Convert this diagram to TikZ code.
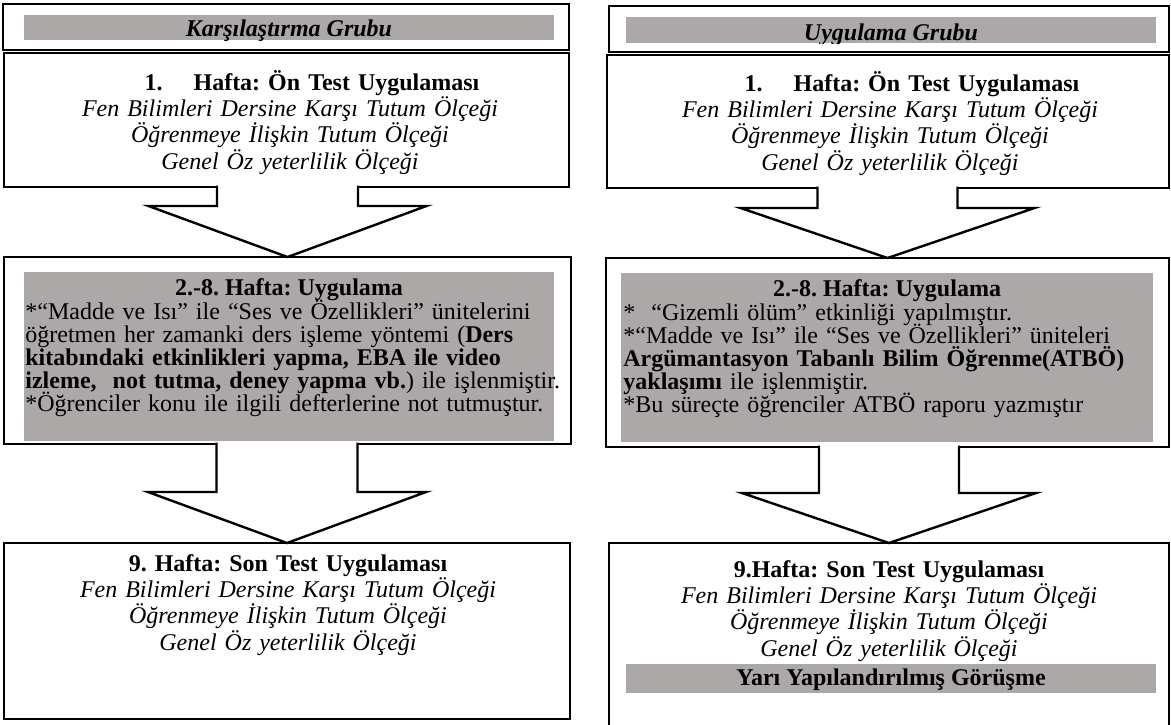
\documentclass[tikz,border=0pt]{standalone}
\usepackage{fontspec}
\setmainfont{Liberation Serif}
\usetikzlibrary{calc}
\definecolor{hgrau}{RGB}{172,168,168}
\frenchspacing

\begin{document}
\begin{tikzpicture}
		[
		x=0.5pt, y=-0.5pt, font={\fontsize{12pt}{13.2pt}\selectfont\lineskiplimit=-\maxdimen},
		%Voreinstellungen für Kästen, Balken und Pfeile
		kasten/.style={draw, line width=1.2pt, fill=white, inner sep=0pt, outer sep=0pt, anchor=north west},
		balken/.style={fill=hgrau, inner sep=0pt, outer sep=0pt},
		zeilen/.style={anchor=base, text width=280pt, align=center, inner sep=0pt},
		links/.style={anchor=base west, text width=300pt, align=left, inner sep=0pt, font={\fontsize{12pt}{11.6pt}\selectfont\lineskiplimit=-\maxdimen}},
		blockpfeil/.style={draw, line width=1.2pt, fill=white, line join=miter}
		]
		
		%Rahmen
		\useasboundingbox (0,0) rectangle (1171,724);
		\clip (0,0) rectangle (1171,724);
		
		%Kopf links
		\node[kasten, minimum width=283pt, minimum height=23pt] (kopfL) at (3,4) {};
		\node[balken, minimum width=265pt, text height=10.5pt, text depth=2pt, anchor=base] (titelL) at (289,36) {\textbf{\textit{Karşılaştırma Grubu}}};
		
		%Kopf rechts
		\node[kasten, minimum width=280pt, minimum height=23pt] (kopfR) at (609,6) {};
		\begin{scope}
		\clip (626,17) rectangle (1156,43);
		\node[balken, minimum width=265pt, text height=11.5pt, text depth=1.5pt, anchor=base] (titelR) at (891,40) {\textbf{\textit{Uygulama Grubu}}};
		\end{scope}
		
		%1. Hafta links
		\node[kasten, minimum width=282.5pt, minimum height=67pt] (boxL1) at (4,53) {};
		\node[zeilen] (txtL1) at (290,90) {\textbf{\hspace*{22pt}1.\hspace{15.5pt}Hafta: Ön Test Uygulaması}\\ \textit{Fen Bilimleri Dersine Karşı Tutum Ölçeği}\\ \textit{Öğrenmeye İlişkin Tutum Ölçeği}\\ \textit{Genel Öz yeterlilik Ölçeği}};
		
		%1. Hafta rechts
		\node[kasten, minimum width=281pt, minimum height=66.5pt] (boxR1) at (607,55) {};
		\node[zeilen] (txtR1) at (890,91) {\textbf{\hspace*{22pt}1.\hspace{15.5pt}Hafta: Ön Test Uygulaması}\\ \textit{Fen Bilimleri Dersine Karşı Tutum Ölçeği}\\ \textit{Öğrenmeye İlişkin Tutum Ölçeği}\\ \textit{Genel Öz yeterlilik Ölçeği}};
		
		%2.-8. Hafta links
		\node[kasten, minimum width=283.5pt, minimum height=93.5pt] (boxL2) at (4,257) {};
		\node[balken, minimum width=265pt, minimum height=84.5pt, anchor=north west] (grauL2) at (24,272) {};
		\node[anchor=base, inner sep=0pt] (titelL2) at (289,295) {\textbf{2.-8. Hafta: Uygulama}};
		\node[links] (txtL2) at (25,319) {{*}“Madde ve Isı” ile “Ses ve Özellikleri” ünitelerini\\ öğretmen her zamanki ders işleme yöntemi (\textbf{Ders}\\ \textbf{kitabındaki etkinlikleri yapma, EBA ile video}\\ \textbf{izleme,\ \ not tutma, deney yapma vb.}) ile işlenmiştir.\\ {*}Öğrenciler konu ile ilgili defterlerine not tutmuştur.};
		
		%2.-8. Hafta rechts
		\node[kasten, minimum width=281.5pt, minimum height=94.5pt] (boxR2) at (606,258) {};
		\node[balken, minimum width=266pt, minimum height=84.5pt, anchor=north west] (grauR2) at (621,273) {};
		\node[anchor=base, inner sep=0pt] (titelR2) at (887,296) {\textbf{2.-8. Hafta: Uygulama}};
		\node[links] (txtR2) at (623,320) {{*}\ \ “Gizemli ölüm” etkinliği yapılmıştır.\\ {*}“Madde ve Isı” ile “Ses ve Özellikleri” üniteleri\\ \textbf{Argümantasyon Tabanlı Bilim Öğrenme(ATBÖ)}\\ \textbf{yaklaşımı} ile işlenmiştir.\\ {*}Bu süreçte öğrenciler ATBÖ raporu yazmıştır};
		
		%9. Hafta links
		\node[kasten, minimum width=283pt, minimum height=88pt] (boxL3) at (4,543) {};
		\node[zeilen] (txtL3) at (288,571) {\textbf{9. Hafta: Son Test Uygulaması}\\ \textit{Fen Bilimleri Dersine Karşı Tutum Ölçeği}\\ \textit{Öğrenmeye İlişkin Tutum Ölçeği}\\ \textit{Genel Öz yeterlilik Ölçeği}};
		
		%9. Hafta rechts
		\node[kasten, minimum width=280pt, minimum height=108.5pt] (boxR3) at (609,543) {};
		\node[zeilen] (txtR3) at (889,577) {\textbf{9.Hafta: Son Test Uygulaması}\\ \textit{Fen Bilimleri Dersine Karşı Tutum Ölçeği}\\ \textit{Öğrenmeye İlişkin Tutum Ölçeği}\\ \textit{Genel Öz yeterlilik Ölçeği}};
		\node[balken, minimum width=265pt, text height=10.5pt, text depth=4pt, anchor=base] (grauR3) at (891,685) {\textbf{Yarı Yapılandırılmış Görüşme}};
		
		%Blockpfeil 1 links
		\draw[blockpfeil] ($(boxL2.north |- boxL1.south)+(-70.5,-1.5)$) -- ($(boxL2.north)+(-70.5,-51)$) -- ($(boxL2.north)+(-139,-51)$) -- (boxL2.north) -- ($(boxL2.north)+(139,-51)$) -- ($(boxL2.north)+(70.5,-51)$) -- ($(boxL2.north |- boxL1.south)+(70.5,-1.5)$);
		%Blockpfeil 2 links
		\draw[blockpfeil] ($(boxL3.north |- boxL2.south)+(-70.5,-1.5)$) -- ($(boxL3.north)+(-70.5,-51)$) -- ($(boxL3.north)+(-139,-51)$) -- (boxL3.north) -- ($(boxL3.north)+(139,-51)$) -- ($(boxL3.north)+(70.5,-51)$) -- ($(boxL3.north |- boxL2.south)+(70.5,-1.5)$);
		%Blockpfeil 1 rechts
		\draw[blockpfeil] ($(boxR2.north |- boxR1.south)+(-70,-1.5)$) -- ($(boxR2.north)+(-70,-50)$) -- ($(boxR2.north)+(-147,-50)$) -- (boxR2.north) -- ($(boxR2.north)+(147,-50)$) -- ($(boxR2.north)+(70,-50)$) -- ($(boxR2.north |- boxR1.south)+(70,-1.5)$);
		%Blockpfeil 2 rechts
		\draw[blockpfeil] ($(boxR3.north |- boxR2.south)+(-70,-1.5)$) -- ($(boxR3.north)+(-70,-50)$) -- ($(boxR3.north)+(-147,-50)$) -- (boxR3.north) -- ($(boxR3.north)+(147,-50)$) -- ($(boxR3.north)+(70,-50)$) -- ($(boxR3.north |- boxR2.south)+(70,-1.5)$);
	\end{tikzpicture}
\end{document}
